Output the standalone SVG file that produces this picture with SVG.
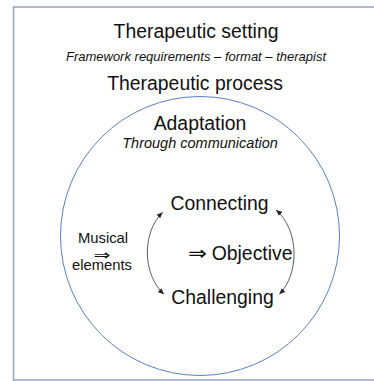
<svg xmlns="http://www.w3.org/2000/svg" width="374" height="381" viewBox="0 0 374 381">
<style>
  text { font-family: "Liberation Sans", Arial, sans-serif; fill: #111; }
  .big { font-size: 19.4px; text-anchor: middle; }
  .it { font-style: italic; text-anchor: middle; }
  .sm { font-size: 14.8px; text-anchor: middle; }
  .arw { font-family: "DejaVu Sans", "Liberation Sans", sans-serif; }
  .conn { fill: none; stroke: #333; stroke-width: 0.8; marker-start: url(#ah); marker-end: url(#ah); }
</style>
<defs>
  <marker id="ah" viewBox="0 0 6 6" refX="6" refY="3" markerWidth="6" markerHeight="6" markerUnits="userSpaceOnUse" orient="auto-start-reverse">
    <path d="M0,0.4 L6,3 L0,5.6 Z" fill="#222"/>
  </marker>
</defs>
<rect width="374" height="381" fill="#fff"/>
<g id="setting">
  <rect x="13.5" y="7" width="372" height="373" fill="none" stroke="#98abc9" stroke-width="1.6"/>
  <text class="big" x="196" y="38">Therapeutic setting</text>
  <text class="it" x="196" y="61" font-size="13">Framework requirements – format – therapist</text>
  <text class="big" x="195" y="90">Therapeutic process</text>
</g>
<g id="process">
  <circle cx="200" cy="236" r="139.5" fill="none" stroke="#5b7fbf" stroke-width="1"/>
  <text class="big" x="200" y="130">Adaptation</text>
  <text class="it" x="200" y="148" font-size="14.5">Through communication</text>
</g>
<g id="musical">
  <text class="sm" x="103" y="243">Musical</text>
  <text class="arw" x="93.5" y="260" font-size="15" textLength="17" lengthAdjust="spacingAndGlyphs">⇒</text>
  <text class="sm" x="102" y="270">elements</text>
</g>
<g id="connecting">
  <text class="big" x="219.5" y="210">Connecting</text>
</g>
<g id="objective">
  <text font-size="19.4" y="259.5"><tspan class="arw" x="188" font-size="20" textLength="19" lengthAdjust="spacingAndGlyphs">⇒</tspan><tspan x="211.7">Objective</tspan></text>
</g>
<g id="challenging">
  <text class="big" x="222.5" y="303.5">Challenging</text>
</g>
<g id="connectors">
  <path class="conn" d="M162.7,212.3 C142,232 142,274 164,294.3"/>
  <path class="conn" d="M276,210 C299.5,230 299.5,274 279.3,294.3"/>
</g>
</svg>
